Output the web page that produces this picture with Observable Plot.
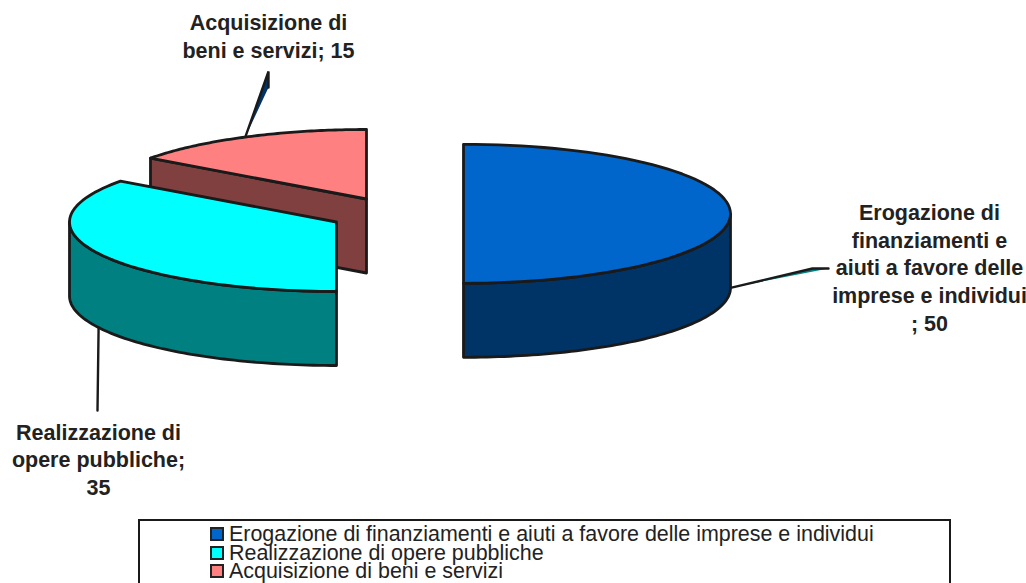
<!DOCTYPE html>
<html><head><meta charset="utf-8">
<script src="https://cdn.jsdelivr.net/npm/d3@7"></script>
<script src="https://cdn.jsdelivr.net/npm/@observablehq/plot@0.6"></script>
<style>
html,body{margin:0;padding:0;background:#fff;overflow:hidden;width:1026px;height:583px}
svg{display:block}
#legend{position:absolute;left:138px;top:519px;width:809px;height:80px;border:2px solid #1a1a1a;box-sizing:content-box;font:21.45px "Liberation Sans",Arial,sans-serif;color:#222}
.row{position:absolute;left:70px;display:flex;align-items:center;height:18px;line-height:18px;white-space:nowrap}
.sw{width:10px;height:10px;border:2px solid #222;margin-right:5px;flex:none}
</style></head><body>
<div id="chart"></div><div id="legend"></div>
<script>
const categories = ["Erogazione di finanziamenti e aiuti a favore delle imprese e individui","Realizzazione di opere pubbliche","Acquisizione di beni e servizi"];
const values = [50, 35, 15];
const labels = ["Erogazione di\nfinanziamenti e\naiuti a favore delle\nimprese e individui\n; 50","Realizzazione di\nopere pubbliche;\n35","Acquisizione di\nbeni e servizi; 15"];
const topColors = ["#0066CC","#00FFFF","#FF8080"];
const sideColors = ["#003366","#008080","#804040"];
const leaderColors = ["#008080","#003366","#003366"];

// layout of the exploded 3D pie
const RX = 267, RY = 69.5, DEPTH = 74;
const centers = [[463,213.3],[336,221.5],[366,198.5]];
const labelAt = [[929,266],[98,458],[268,35]];
const elbows = [[[812,268],[828,268]],[[97,410],[97,410]],[[268,71],[268,87]]];

const arcs = d3.pie().sort(null).startAngle(0).endAngle(2*Math.PI)(values);
const pt = (i,a,dz=0)=>({x:centers[i][0]+RX*Math.sin(a), y:centers[i][1]-RY*Math.cos(a)+dz});
const sweep = (i,a0,a1,dz=0)=>d3.range(0,73).map(k=>pt(i,a0+(a1-a0)*k/72,dz));

const topPoly = i=>{const c={x:centers[i][0],y:centers[i][1]};return [c,...sweep(i,arcs[i].startAngle,arcs[i].endAngle),c];};
// the outer wall: the part of the rim facing the viewer (angles from 90° to 270°)
const wallPoly = i=>{
  const a0=Math.max(arcs[i].startAngle,Math.PI/2), a1=Math.min(arcs[i].endAngle,3*Math.PI/2);
  const s=sweep(i,a0,a1);
  return [...s,...sweep(i,a1,a0,DEPTH),s[0]];
};
// the cut face of the back slice
const cutPoly = i=>{
  const c={x:centers[i][0],y:centers[i][1]}, e=pt(i,arcs[i].startAngle);
  return [c,e,{x:e.x,y:e.y+DEPTH},{x:c.x,y:c.y+DEPTH},c];
};
const poly=(points,fill,key)=>points.map(p=>({...p,fill,key}));
const shapes=[];
shapes.push(...poly(cutPoly(2),sideColors[2],"c2"));
shapes.push(...poly(topPoly(2),topColors[2],"t2"));
shapes.push(...poly(wallPoly(1),sideColors[1],"w1"));
shapes.push(...poly(topPoly(1),topColors[1],"t1"));
shapes.push(...poly(wallPoly(0),sideColors[0],"w0"));
shapes.push(...poly(topPoly(0),topColors[0],"t0"));

const leaders=[];
arcs.forEach((d,i)=>{
  const mid=(d.startAngle+d.endAngle)/2;
  const s=pt(i,mid,Math.cos(mid)<1e-6?DEPTH:0);
  const [e1,e2]=elbows[i];
  leaders.push(...[s,{x:e1[0],y:e1[1]},{x:e2[0],y:e2[1]}].map(p=>({...p,fill:leaderColors[i],key:"l"+i})));
});
const labelData=labels.map((t,i)=>({t,x:labelAt[i][0],y:labelAt[i][1]}));

const plot=Plot.plot({
  width:1026,height:519,margin:0,
  style:{background:"#fff",overflow:"visible"},
  x:{domain:[0,1026],range:[0,1026],axis:null},
  y:{domain:[0,519],range:[0,519],axis:null},
  marks:[
    Plot.line(leaders,{x:"x",y:"y",z:"key",fill:"fill",stroke:"#1a1a1a",strokeWidth:2.4,strokeLinejoin:"miter"}),
    Plot.line(shapes,{x:"x",y:"y",z:"key",fill:"fill",stroke:"#1a1a1a",strokeWidth:2.8,strokeLinejoin:"round"}),
    Plot.text(labelData,{x:"x",y:"y",text:"t",lineAnchor:"middle",lineHeight:1.3,textAnchor:"middle",fontFamily:"Liberation Sans",fontWeight:"bold",fontSize:21.5,fill:"#222"})
  ]
});
document.getElementById("chart").append(plot);

const legend=document.getElementById("legend");
categories.forEach((c,i)=>{
  const r=document.createElement("div");r.className="row";r.style.top=(4+i*18.5)+"px";
  const s=document.createElement("span");s.className="sw";s.style.background=topColors[i];
  const t=document.createElement("span");t.textContent=c;
  r.append(s,t);legend.append(r);
});
</script></body></html>
